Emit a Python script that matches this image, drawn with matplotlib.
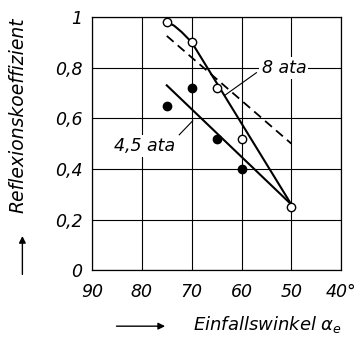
import matplotlib
matplotlib.use("Agg")
import matplotlib.pyplot as plt

# measured points (angle of incidence in degrees, reflection coefficient)
open_x = [75, 70, 65, 60, 50]
open_y = [0.98, 0.90, 0.72, 0.52, 0.25]
filled_x = [75, 70, 65, 60]
filled_y = [0.65, 0.72, 0.52, 0.40]

# fitted curves
curve8_x = [75, 73.5, 72, 70, 50]
curve8_y = [0.98, 0.965, 0.94, 0.90, 0.26]
line45_x = [75, 50]
line45_y = [0.73, 0.26]
dash_x = [75, 50]
dash_y = [0.925, 0.50]

xticks = [90, 80, 70, 60, 50, 40]
xlabels = ["90", "80", "70", "60", "50", "40°"]
yticks = [0, 0.2, 0.4, 0.6, 0.8, 1.0]
ylabels = ["0", "0,2", "0,4", "0,6", "0,8", "1"]

plt.rcParams["font.family"] = "DejaVu Sans"
plt.rcParams["font.style"] = "italic"

fig = plt.figure(figsize=(3.61, 3.38), dpi=100)
ax = fig.add_axes([0.255, 0.20, 0.69, 0.75])
ax.set_xlim(90, 40)
ax.set_ylim(0, 1)
ax.set_xticks(xticks)
ax.set_xticklabels(xlabels, fontsize=12.5)
ax.set_yticks(yticks)
ax.set_yticklabels(ylabels, fontsize=12.5)
ax.tick_params(axis="x", length=0, pad=9)
ax.tick_params(axis="y", length=0, pad=7)
ax.grid(True, color="black", lw=0.8)
for s in ax.spines.values():
    s.set_linewidth(0.9)

ax.plot(curve8_x, curve8_y, color="black", lw=1.5)
ax.plot(line45_x, line45_y, color="black", lw=1.5)
ax.plot(dash_x, dash_y, color="black", lw=1.3, ls=(0, (5, 3)))
ax.plot(open_x, open_y, "o", ms=6, mfc="white", mec="black", mew=1.0, zorder=5)
ax.plot(filled_x, filled_y, "o", ms=6, mfc="black", mec="black", zorder=5)

ax.text(51.5, 0.80, "8 ata", fontsize=12.5, ha="center", va="center",
        bbox=dict(fc="white", ec="none", pad=1.5), zorder=4)
ax.plot([57, 63.4], [0.78, 0.69], color="black", lw=0.8)
ax.text(79.5, 0.49, "4,5 ata", fontsize=12.5, ha="center", va="center",
        bbox=dict(fc="white", ec="none", pad=1.5), zorder=4)
ax.plot([72.5, 69.8], [0.535, 0.59], color="black", lw=0.8)

fig.text(0.05, 0.66, "Reflexionskoeffizient", rotation=90, fontsize=13.5,
         ha="center", va="center")
fig.add_artist(matplotlib.patches.FancyArrowPatch(
    (0.062, 0.18), (0.062, 0.31), transform=fig.transFigure,
    arrowstyle="-|>", mutation_scale=10, color="black", lw=1.0))
fig.text(0.535, 0.04, "Einfallswinkel $\\alpha_e$", fontsize=13,
         ha="left", va="center")
fig.add_artist(matplotlib.patches.FancyArrowPatch(
    (0.315, 0.035), (0.465, 0.035), transform=fig.transFigure,
    arrowstyle="-|>", mutation_scale=10, color="black", lw=1.0))

fig.savefig("out.png", dpi=100)
